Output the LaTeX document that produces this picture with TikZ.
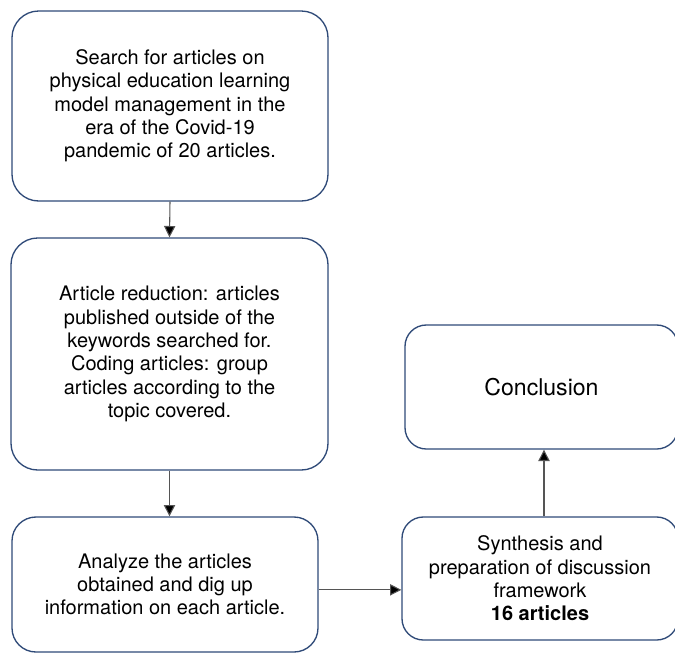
\documentclass[tikz,border=0pt]{standalone}
\usepackage{fontspec}
\setmainfont{TeX Gyre Heros}
\usepackage{xcolor}
\usetikzlibrary{positioning, arrows.meta, calc}
\definecolor{boxblue}{HTML}{2F4A78}
\definecolor{arrgray}{HTML}{555555}

\begin{document}
\begin{tikzpicture}[
    x=0.75pt, y=-0.75pt,
    stage/.style={draw=boxblue, line width=1pt, rounded corners=20pt, fill=white,
                  align=center, inner sep=0pt,
                  font=\fontsize{15}{17.5}\selectfont},
    arr/.style={-{Triangle[length=8.5pt, width=8.5pt, fill=black]}, draw=arrgray, line width=0.8pt},
]
\useasboundingbox (0,0) rectangle (675,654);
\clip (0,0) rectangle (675,654);

% Left column
\node[stage, minimum width=237pt, minimum height=142.5pt] (search) at (170,106)
  {Search for articles on\\ physical education learning\\ model management in the\\
   era of the Covid-19\\ pandemic of 20 articles.};
\node[stage, minimum width=237.75pt, minimum height=174pt] (reduce) at (169.5,354)
  {Article reduction: articles\\ published outside of the\\ keywords searched for.\\
   Coding articles: group\\ articles according to the\\ topic covered.};
\node[stage, minimum width=229.5pt, minimum height=101.25pt, rounded corners=18pt] (analyze) at (165,584.5)
  {Analyze the articles\\ obtained and dig up\\ information on each article.};

% Right column
\node[stage, minimum width=207pt, minimum height=92.25pt, rounded corners=16pt] (synth) at (540,578.5)
  {Synthesis and\\ preparation of discussion\\ framework\\ \textbf{16 articles}};
\node[stage, minimum width=204.75pt, minimum height=93pt, rounded corners=16pt,
      font=\fontsize{17.3}{20}\selectfont] (concl) at (541.5,387) {Conclusion};

% Arrows
\draw[arr] (search.south) -- (reduce.north);
\draw[arr] (reduce.south) -- (reduce.south |- analyze.north);
\draw[arr] ([yshift=-4pt]analyze.east) -- ([yshift=-4pt]analyze.east -| synth.west);
\draw[arr] ([xshift=3pt]synth.north) -- ([xshift=3pt]synth.north |- concl.south);
\end{tikzpicture}
\end{document}
